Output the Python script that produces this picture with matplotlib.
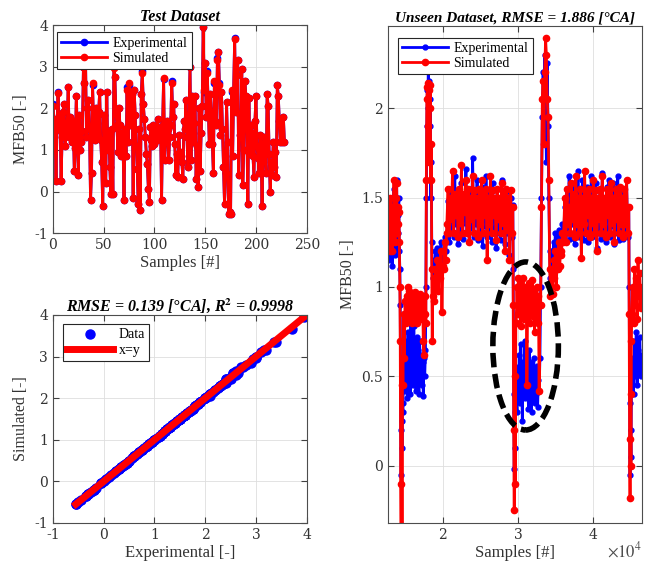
import numpy as np
import matplotlib.pyplot as plt
from matplotlib.patches import Ellipse
from matplotlib.ticker import FuncFormatter

plt.rcParams['font.family'] = ['DejaVu Serif']
plt.rcParams['font.size'] = 10
plt.rcParams['mathtext.fontset'] = 'stix'
LAB = 'Liberation Serif'

# ---- test dataset: MFB50 per sample ----
test_exp = [
    2.1, 1.75, 1.45, 0.25, 1.6, 2.4, 1.5, 1.8, 0.25, 1.3, 1.9, 2.1, 1.1, 1.35,
    1.6, 2.5, 1.3, 1.8, 1.5, 1.2, 1.7, 0.5, 1.05, 2.3, 1.4, 0.4, 1.85, 1.0,
    1.2, 1.45, 3.0, 2.6, 3.4, 1.3, 2.0, 2.2, 1.5, -0.2, 0.45, 2.55, 1.6, 1.25,
    2.0, 1.65, 1.3, 1.9, 2.4, 1.25, 0.7, -0.35, 1.85, 1.1, 0.2, 2.4, 1.0, 1.45,
    0.6, -0.05, 1.5, -0.05, 3.0, 2.75, 1.9, 1.6, 0.95, 2.0, 1.6, 0.85, 1.4, 1.15,
    -0.2, 1.5, 0.85, 2.5, 1.2, 2.55, 1.6, 2.1, 2.35, -0.15, 2.45, 1.85, 1.1, 0.55,
    -0.3, 1.5, -0.45, 2.35, 2.9, 2.1, 1.75, 1.3, 0.9, 0.65, 0.05, -0.25, 1.55, 1.25,
    1.1, 1.6, 1.15, 1.5, 1.25, 1.75, 1.4, 1.3, 1.55, -0.2, 1.6, 2.7, 0.75, 1.2,
    1.7, 1.5, 0.75, 1.3, 1.6, 2.65, 1.8, 2.1, 1.15, 0.4, 0.9, 0.35, 1.35, 0.95,
    0.85, 0.7, 0.3, 1.7, 1.5, 2.2, 1.3, 0.6, 1.8, 3.0, 0.75, 2.3, 1.2, 1.65,
    2.3, 0.3, 1.1, 0.1, 2.0, 0.5, 1.4, 2.05, 3.95, 2.4, 3.1, 1.8, 2.9, 2.0,
    1.15, 2.35, 1.9, 1.15, 0.45, 2.6, 1.7, 1.6, 3.2, 3.35, 2.6, 1.35, 2.4, 1.5,
    0.6, -0.3, 0.45, 2.15, 1.2, -0.55, -0.5, -0.55, 2.4, 0.85, 2.45, 3.7, 1.9, 2.8,
    3.15, 0.4, 1.35, 1.4, 2.95, 0.15, 1.0, 2.65, 2.3, 1.5, -0.3, 2.25, 0.9, 1.6,
    1.4, 0.85, 0.35, 1.7, 2.3, 1.1, 0.8, 0.45, 1.35, 0.95, -0.35, 1.15, 1.3, 0.9,
    0.45, 2.35, 2.05, 0.9, 0.0, 0.7, 0.4, 1.2, 0.6, 0.95, 0.35, 2.55, 2.3, 1.7,
    1.2, 1.75, 1.2, 1.8, 1.2,
]
# simulated values differ slightly from the measured ones at a few samples
sim_changes = {0: 2.06, 5: 2.36, 32: 3.35, 39: 2.6, 60: 2.96, 73: 2.45,
               75: 2.6, 88: 2.85, 109: 2.74, 117: 2.6, 149: 2.45, 152: 2.86,
               159: 2.65, 162: 3.16, 164: 2.55, 176: 2.45, 179: 3.66}
test_sim = list(test_exp)
for i, v in sim_changes.items():
    test_sim[i] = v

# ---- unseen dataset, written as consecutive blocks of samples ----
unseen_blocks = [(12800, 14300), (14350, 14650), (14700, 17700), (17750, 18600),
                 (18650, 20500), (20550, 29300), (29350, 29700), (29750, 32900),
                 (33000, 34300), (34350, 36000), (36050, 44700), (44750, 45050),
                 (45100, 46400)]
unseen_exp = [
    [1.25, 1.38, 1.15, 1.45, 1.2, 1.32, 1.5, 1.12, 1.42, 1.25, 1.55, 1.3, 1.18, 1.45,
     1.35, 1.6, 1.22, 1.4, 1.3, 1.5, 1.2, 1.1],
    [0.9, 0.2, -0.05, 0.25, 0.1, 0.35],
    [0.3, 0.55, 0.42, 0.7, 0.48, 0.62, 0.38, 0.75, 0.5, 0.66, 0.4, 0.8, 0.55, 0.68,
     0.45, 0.78, 0.52, 0.6, 0.42, 0.72, 0.48, 0.65, 0.4, 0.7, 0.55, 0.62, 0.45, 0.58,
     0.39, 0.6, 0.5, 0.65],
    [1.0, 1.5, 1.9, 2.1, 2.0, 2.22, 1.8, 2.15, 1.9, 2.05, 1.5, 1.7, 1.25, 1.1],
    [1.05, 1.15, 1.0, 1.2, 1.1, 1.22, 1.05, 1.18, 1.12, 1.25, 1.1, 1.2, 1.15, 1.28,
     1.2, 1.3],
    [1.3, 1.48, 1.25, 1.55, 1.32, 1.5, 1.28, 1.62, 1.35, 1.45, 1.24, 1.52, 1.3, 1.58,
     1.27, 1.47, 1.36, 1.66, 1.3, 1.5, 1.25, 1.55, 1.33, 1.72, 1.28, 1.46, 1.35, 1.6,
     1.26, 1.5, 1.3, 1.56, 1.23, 1.48, 1.34, 1.62, 1.28, 1.52, 1.3, 1.45, 1.25, 1.58,
     1.32, 1.5, 1.22, 1.55, 1.3, 1.47, 1.26, 1.6, 1.33, 1.5, 1.24, 1.53, 1.3, 1.45,
     1.18, 1.5, 1.28, 1.46],
    [1.1, 0.4, -0.02, 0.3, 0.1, 0.45],
    [0.45, 0.3, 0.55, 0.4, 0.62, 0.35, 0.68, 0.5, 0.25, 0.58, 0.42, 0.7, 0.38, 0.6,
     0.45, 0.55, 0.32, 0.65, 0.48, 0.58, 0.3, 0.52, 0.44, 0.6, 0.35, 0.5, 0.4, 0.56,
     0.33, 0.48, 0.42, 0.6],
    [1.0, 1.5, 1.95, 2.2, 1.85, 2.3, 2.05, 1.7, 2.25, 1.9, 1.5, 1.2, 1.05],
    [1.1, 1.2, 1.05, 1.25, 1.15, 1.3, 1.1, 1.22, 1.18, 1.32, 1.2, 1.28, 1.25, 1.35, 1.3],
    [1.28, 1.45, 1.25, 1.55, 1.3, 1.62, 1.27, 1.5, 1.35, 1.58, 1.24, 1.48, 1.3, 1.65,
     1.28, 1.52, 1.34, 1.6, 1.26, 1.48, 1.32, 1.56, 1.25, 1.5, 1.3, 1.62, 1.28, 1.46,
     1.35, 1.58, 1.22, 1.5, 1.3, 1.55, 1.27, 1.64, 1.32, 1.48, 1.25, 1.56, 1.3, 1.6,
     1.28, 1.5, 1.34, 1.58, 1.24, 1.52, 1.3, 1.62, 1.26, 1.48, 1.33, 1.55, 1.27, 1.5,
     1.3, 1.6, 1.28, 1.45],
    [1.0, 0.35, -0.05, 0.2, 0.05, 0.4],
    [0.45, 0.6, 0.4, 0.7, 0.5, 0.75, 0.45, 0.65, 0.55, 0.72, 0.5, 0.62],
]
unseen_sim = [
    [1.28, 1.32, 1.2, 1.5, 1.25, 1.38, 1.45, 1.2, 1.4, 1.3, 1.6, 1.35, 1.25, 1.5,
     1.3, 1.58, 1.3, 1.45, 1.35, 1.42, 1.25, 1.0],
    [0.7, -0.1, -0.4, 0.45, -0.38, 0.6],
    [0.45, 0.85, 0.6, 0.92, 0.8, 0.95, 0.85, 1.0, 0.82, 0.98, 0.86, 0.92, 0.8, 0.95,
     0.88, 0.9, 0.83, 0.97, 0.86, 0.92, 0.8, 0.93, 0.85, 0.96, 0.88, 0.9, 0.82, 0.95,
     0.7, 0.62, 0.85, 0.95],
    [0.8, 1.6, 2.05, 2.12, 1.9, 2.14, 1.7, 2.1, 2.0, 2.13, 1.6, 1.8, 1.1, 0.7],
    [0.95, 1.05, 0.92, 1.1, 1.0, 1.15, 0.98, 1.1, 1.05, 1.2, 0.86, 1.12, 1.1, 1.25,
     1.15, 1.3],
    [1.35, 1.55, 1.3, 1.5, 1.38, 1.65, 1.3, 1.52, 1.4, 1.5, 1.28, 1.55, 1.36, 1.68,
     1.3, 1.52, 1.42, 1.6, 1.3, 1.55, 1.25, 1.5, 1.38, 1.62, 1.3, 1.54, 1.4, 1.5,
     1.28, 1.55, 1.35, 1.6, 1.3, 1.52, 1.4, 1.55, 1.15, 1.5, 1.35, 1.62, 1.3, 1.54,
     1.4, 1.5, 1.26, 1.55, 1.38, 1.5, 1.3, 1.58, 1.36, 1.52, 1.2, 1.55, 1.32, 1.5,
     1.15, 1.54, 1.3, 1.45],
    [0.9, 0.2, -0.25, 0.5, -0.1, 0.8],
    [0.8, 1.0, 0.85, 1.05, 0.9, 1.02, 0.78, 0.95, 0.88, 1.05, 0.82, 0.98, 0.9, 1.0,
     0.45, 0.95, 0.85, 1.02, 0.8, 0.96, 0.9, 1.04, 0.84, 0.98, 0.75, 0.92, 0.88, 1.0,
     0.8, 0.95, 0.42, 0.9],
    [0.9, 1.45, 2.05, 2.15, 1.8, 2.2, 2.39, 2.3, 2.05, 1.95, 1.6, 1.1, 0.95],
    [1.0, 1.1, 0.96, 1.15, 1.05, 1.2, 1.0, 1.12, 1.1, 1.25, 1.12, 1.2, 1.18, 1.3, 1.25],
    [1.3, 1.5, 1.25, 1.55, 1.35, 1.45, 1.3, 1.58, 1.38, 1.52, 1.28, 1.62, 1.35, 1.5,
     1.3, 1.55, 1.16, 1.5, 1.35, 1.65, 1.3, 1.52, 1.4, 1.55, 1.28, 1.5, 1.36, 1.6,
     1.3, 1.54, 1.2, 1.5, 1.38, 1.55, 1.3, 1.62, 1.35, 1.5, 1.28, 1.55, 1.4, 1.52,
     1.3, 1.58, 1.36, 1.5, 1.25, 1.55, 1.38, 1.52, 1.3, 1.56, 1.35, 1.5, 1.28, 1.55,
     1.35, 1.6, 1.3, 1.45],
    [0.85, 0.15, -0.18, 0.4, 0.0, 0.7],
    [0.85, 1.0, 0.8, 1.1, 0.9, 1.05, 0.82, 1.15, 0.95, 1.08, 0.88, 1.0],
]

xs, ye, ys = [], [], []
for (a, b), e, s in zip(unseen_blocks, unseen_exp, unseen_sim):
    xs.append(np.linspace(a, b, len(e)))
    ye += e
    ys += s
xs = np.concatenate(xs)


def style_axes(ax):
    ax.grid(True, color='0.87', lw=0.6)
    ax.set_axisbelow(True)
    ax.tick_params(direction='in', top=True, right=True, colors='0.25',
                   labelcolor='0.2', labelsize=10, length=4)
    for sp in ax.spines.values():
        sp.set_color('0.3')
        sp.set_linewidth(0.8)


def labels(ax, xl, yl, title, tsize=11.5):
    ax.set_xlabel(xl, family=LAB, fontsize=12, color='0.2', labelpad=2)
    ax.set_ylabel(yl, family=LAB, fontsize=11.5, color='0.2', labelpad=4)
    ax.set_title(title, family=LAB, fontsize=tsize, fontweight='bold',
                 style='italic', pad=3)


def legend(ax, anchor):
    lg = ax.legend(loc='upper left', bbox_to_anchor=anchor, fancybox=False,
                   framealpha=1, edgecolor='0.15',
                   prop={'family': LAB, 'size': 10},
                   handlelength=3.3, borderpad=0.3, labelspacing=0.15,
                   handletextpad=0.4, borderaxespad=0)
    lg.get_frame().set_linewidth(0.8)
    return lg


fmt = FuncFormatter(lambda v, p: '%g' % v)
fig = plt.figure(figsize=(6.54, 5.70), dpi=100)

# test dataset
ax1 = fig.add_axes([0.081, 0.591, 0.388, 0.365])
n = np.arange(len(test_exp))
ax1.plot(n, test_exp, 'o-', color='#0000ff', lw=2, ms=4.5, label='Experimental')
ax1.plot(n, test_sim, 'o-', color='#ff0000', lw=2, ms=4.5, label='Simulated')
ax1.set_xlim(0, 250)
ax1.set_ylim(-1, 4)
labels(ax1, 'Samples [#]', 'MFB50 [-]', 'Test Dataset')
style_axes(ax1)
legend(ax1, (0.016, 0.965))

# measured vs simulated
ax2 = fig.add_axes([0.081, 0.0825, 0.388, 0.365])
ax2.plot(test_exp, test_sim, 'o', color='#0000ff', ms=6.5, label='Data')
lim = [min(test_exp), max(test_exp)]
ax2.plot(lim, lim, '-', color='#ff0000', lw=5, label='x=y')
ax2.set_xlim(-1, 4)
ax2.set_ylim(-1, 4)
labels(ax2, 'Experimental [-]', 'Simulated [-]',
       r'RMSE = 0.139 [°CA], R$^{\mathbf{2}}$ = 0.9998')
style_axes(ax2)
legend(ax2, (0.04, 0.955))

# unseen dataset
ax3 = fig.add_axes([0.593, 0.0825, 0.388, 0.872])
ax3.plot(xs, ye, 'o-', color='#0000ff', lw=2, ms=3.5, label='Experimental')
ax3.plot(xs, ys, 'o-', color='#ff0000', lw=2, ms=4.5, label='Simulated')
ax3.add_patch(Ellipse((31000, 0.67), 8700, 0.94, fill=False, color='black',
                      lw=4, linestyle=(0, (2.6, 1.2)), zorder=5))
ax3.set_xlim(12700, 46400)
ax3.set_ylim(-0.32, 2.46)
ax3.set_xticks([20000, 30000, 40000])
ax3.set_xticklabels(['2', '3', '4'])
ax3.set_yticks([0, 0.5, 1, 1.5, 2])
ax3.yaxis.set_major_formatter(fmt)
labels(ax3, 'Samples [#]', 'MFB50 [-]', 'Unseen Dataset, RMSE = 1.886 [°CA]',
       tsize=11)
ax3.text(1.0, -0.036, r'$\times10^{4}$', transform=ax3.transAxes, ha='right',
         va='top', fontsize=12, color='0.3')
style_axes(ax3)
legend(ax3, (0.04, 0.976))

for ax in (ax1, ax2):
    ax.yaxis.set_major_formatter(fmt)
    ax.xaxis.set_major_formatter(fmt)

fig.savefig('out.png', dpi=100)
